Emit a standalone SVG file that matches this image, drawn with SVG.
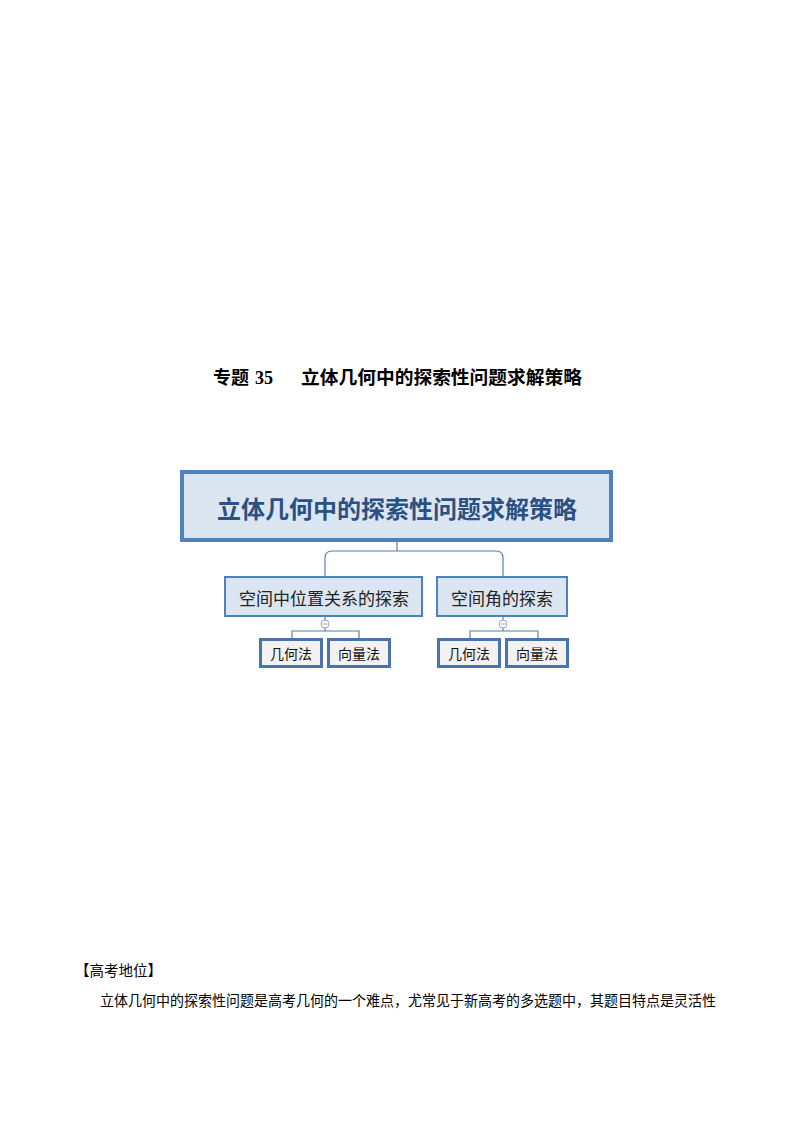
<svg xmlns="http://www.w3.org/2000/svg" width="794" height="1123" viewBox="0 0 794 1123">
<style>
.cn{font-family:"Noto Sans CJK SC","Liberation Sans",sans-serif}
.sub{fill:#dce6f2;stroke:#4f81bd;stroke-width:2}
.leaf{fill:#f2f2f2;stroke:#4a74ac;stroke-width:3}
.conn{fill:none;stroke:#5b7fae;stroke-width:1.2}
.subt{font-size:17px;fill:#222;text-anchor:middle;dominant-baseline:central}
.leaft{font-size:14px;fill:#111;text-anchor:middle;dominant-baseline:central}
</style>
<rect width="794" height="1123" fill="#ffffff"/>
<g id="title">
<text x="213" y="384" class="cn" font-size="18" font-weight="bold" fill="#000">专题</text>
<text x="255" y="384" font-family="Liberation Serif,serif" font-size="18" font-weight="bold" fill="#000">35</text>
<text x="301" y="384" class="cn" font-size="18.5" font-weight="bold" fill="#000" textLength="281" lengthAdjust="spacingAndGlyphs">立体几何中的探索性问题求解策略</text>
</g>
<g id="connectors">
<path class="conn" d="M397 542 V551"/>
<path class="conn" d="M325 576 V558 Q325 551 332 551 H496 Q503 551 503 558 V576"/>
<path class="conn" d="M325 617 V620 M325 628 V631 M292 639 V631 H359 V639"/>
<path class="conn" d="M503 617 V620 M503 628 V631 M470 639 V631 H538 V639"/>
<circle cx="325" cy="624" r="4" fill="#fff" stroke="#9aa9c2" stroke-width="1"/>
<line x1="322.5" y1="624" x2="327.5" y2="624" stroke="#9aa9c2" stroke-width="1"/>
<circle cx="503" cy="624" r="4" fill="#fff" stroke="#9aa9c2" stroke-width="1"/>
<line x1="500.5" y1="624" x2="505.5" y2="624" stroke="#9aa9c2" stroke-width="1"/>
</g>
<g id="root">
<rect x="182" y="472" width="429" height="68" fill="#dce6f2" stroke="#4f81bd" stroke-width="4"/>
<text x="397" y="507" class="cn" font-size="24" font-weight="bold" fill="#2b5082" text-anchor="middle" dominant-baseline="central" textLength="360" lengthAdjust="spacingAndGlyphs">立体几何中的探索性问题求解策略</text>
</g>
<g id="node-position">
<rect class="sub" x="225" y="577" width="197" height="39"/>
<text x="324" y="597" class="cn subt">空间中位置关系的探索</text>
</g>
<g id="node-angle">
<rect class="sub" x="437" y="577" width="130" height="39"/>
<text x="502" y="597" class="cn subt">空间角的探索</text>
</g>
<g id="leaf-1">
<rect class="leaf" x="260.5" y="639.5" width="61" height="27"/>
<text x="291" y="653" class="cn leaft">几何法</text>
</g>
<g id="leaf-2">
<rect class="leaf" x="328.5" y="639.5" width="61" height="27"/>
<text x="359" y="653" class="cn leaft">向量法</text>
</g>
<g id="leaf-3">
<rect class="leaf" x="438.5" y="639.5" width="61" height="27"/>
<text x="469" y="653" class="cn leaft">几何法</text>
</g>
<g id="leaf-4">
<rect class="leaf" x="506.5" y="639.5" width="61" height="27"/>
<text x="537" y="653" class="cn leaft">向量法</text>
</g>
<g id="body">
<text x="75" y="976" class="cn" font-size="15" fill="#000" textLength="87" lengthAdjust="spacingAndGlyphs">【高考地位】</text>
<text x="100" y="1006" class="cn" font-size="14.5" fill="#000" textLength="616" lengthAdjust="spacingAndGlyphs">立体几何中的探索性问题是高考几何的一个难点，尤常见于新高考的多选题中，其题目特点是灵活性</text>
</g>
</svg>
